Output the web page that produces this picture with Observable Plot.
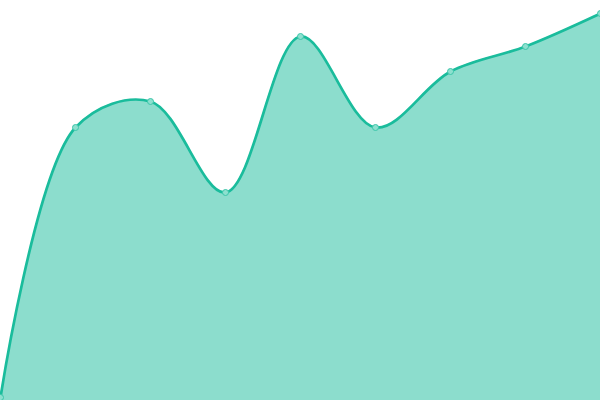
<!DOCTYPE html>
<html>
<head>
<meta charset="utf-8">
<script src="https://cdn.jsdelivr.net/npm/d3@7"></script>
<script src="https://cdn.jsdelivr.net/npm/@observablehq/plot@0.6"></script>
<style>
  html, body { margin: 0; padding: 0; background: #fff; }
</style>
</head>
<body>
<div id="chart"></div>
<script>
const indices = [0, 1, 2, 3, 4, 5, 6, 7, 8];
const values = [3, 273, 299, 208, 364, 273, 329, 354, 387];

const data = indices.map((i, k) => ({x: i, y: values[k]}));

const chart = Plot.plot({
  width: 600,
  height: 400,
  margin: 0,
  x: {domain: [0, 8], axis: null},
  y: {domain: [0, 400], axis: null},
  marks: [
    Plot.areaY(data, {x: "x", y: "y", curve: "catmull-rom", fill: "#1abc9c", fillOpacity: 0.5}),
    Plot.lineY(data, {x: "x", y: "y", curve: "catmull-rom", stroke: "#1abc9c", strokeWidth: 2.7}),
    Plot.dot(data, {x: "x", y: "y", r: 3, fill: "#8de0cf", stroke: "#3cc6aa", strokeWidth: 1})
  ]
});
document.getElementById("chart").appendChild(chart);
</script>
</body>
</html>
